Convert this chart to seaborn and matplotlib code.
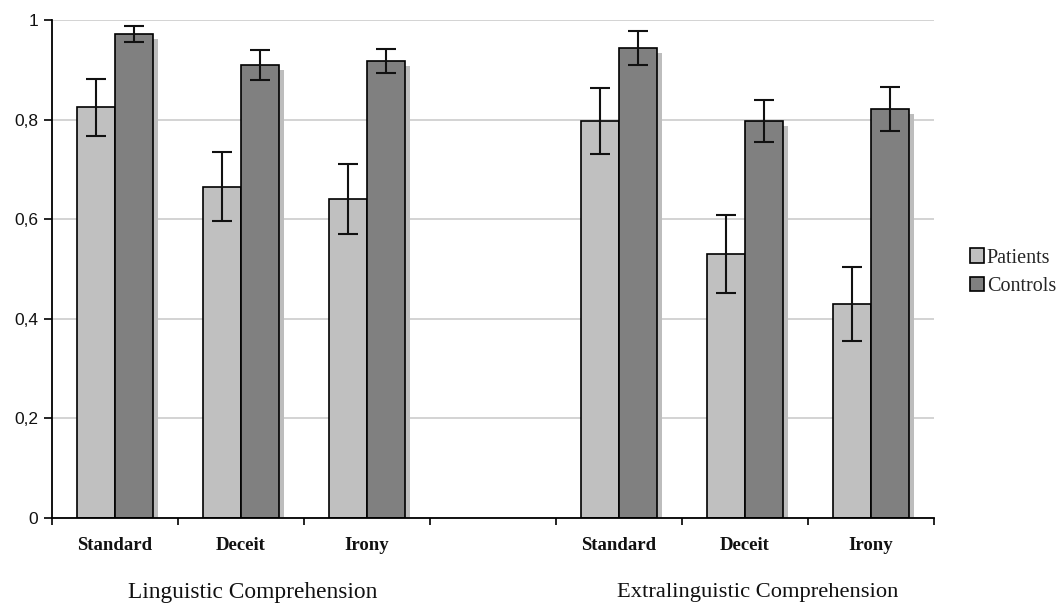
import numpy as np
import pandas as pd
import matplotlib
matplotlib.use("Agg")
import matplotlib.pyplot as plt
import matplotlib.patheffects as pe
import matplotlib.transforms as mtransforms
from matplotlib.container import BarContainer
import seaborn as sns

# ---- data ----
conditions = ["Standard", "Deceit", "Irony"]
domains = ["Linguistic Comprehension", "Extralinguistic Comprehension"]
groups = ["Patients", "Controls"]
patients_mean = [0.825, 0.665, 0.640, 0.797, 0.530, 0.430]
patients_err = [0.057, 0.069, 0.070, 0.067, 0.079, 0.075]
controls_mean = [0.971, 0.909, 0.918, 0.944, 0.797, 0.821]
controls_err = [0.016, 0.030, 0.024, 0.034, 0.042, 0.044]
yticks = [0, 0.2, 0.4, 0.6, 0.8, 1.0]
ytick_labels = ["0", "0,2", "0,4", "0,6", "0,8", "1"]

# ---- table ----
slots = [f"{d}|{c}" for d in domains for c in conditions]
order = slots[:3] + ["gap"] + slots[3:]
rows = []
errs = {}
for g, means, es in [("Patients", patients_mean, patients_err),
                     ("Controls", controls_mean, controls_err)]:
    for s, m, e in zip(slots, means, es):
        rows.append({"slot": s, "group": g, "value": m})
        errs[(g, s)] = e
df = pd.DataFrame(rows)

sns.set_style("white")
fig = plt.figure(figsize=(10.62, 6.06), dpi=100)
ax = fig.add_axes([52 / 1062, 88 / 606, 882 / 1062, 498 / 606])

palette = {"Patients": "#c0c0c0", "Controls": "#808080"}
sns.barplot(data=df, x="slot", y="value", hue="group", order=order,
            hue_order=groups, palette=palette, width=0.6, saturation=1,
            edgecolor="black", linewidth=1.2, errorbar=None, ax=ax, zorder=3)

shadow = [pe.SimplePatchShadow(offset=(3.4, -3.4), shadow_rgbFace="#bdbdbd", alpha=1.0),
          pe.Normal()]
bar_conts = [c for c in list(ax.containers) if isinstance(c, BarContainer)]
for gi, cont in enumerate(bar_conts):
    g = groups[gi]
    for bar in cont:
        h = bar.get_height()
        if h is None or np.isnan(h):
            continue
        bar.set_path_effects(shadow)
        xc = bar.get_x() + bar.get_width() / 2
        idx = int(round(xc))
        s = order[idx]
        if (g, s) in errs:
            ax.errorbar(xc, h, yerr=errs[(g, s)], fmt="none", ecolor="#111111",
                        elinewidth=1.5, capsize=7.5, capthick=1.5, zorder=6)

# ---- axes styling ----
ax.set_ylim(0, 1)
ax.set_xlim(-0.5, len(order) - 0.5)
ax.set_yticks(yticks)
ax.set_yticklabels(ytick_labels, family="Liberation Sans", fontsize=12.5, color="#111111")
ax.yaxis.grid(True, color="#c8c8c8", linewidth=1.1, zorder=0)
ax.set_axisbelow(True)
ax.tick_params(axis="y", direction="out", length=6, width=1.2, color="black", pad=4, left=True)

xlabels = conditions + [""] + conditions
ax.set_xticks(range(len(order)))
ax.set_xticklabels(xlabels, family="Liberation Serif", fontweight="bold",
                   fontsize=13.5, color="#111111")
ax.tick_params(axis="x", which="major", length=0, pad=14)
ax.set_xticks(np.arange(-0.5, len(order), 1.0), minor=True)
ax.tick_params(axis="x", which="minor", direction="out", length=5, width=1.2,
               color="black", bottom=True)
ax.set_xlabel("")
ax.set_ylabel("")

for sp in ["top", "right"]:
    ax.spines[sp].set_visible(False)
for sp in ["left", "bottom"]:
    ax.spines[sp].set_color("black")
    ax.spines[sp].set_linewidth(1.3)
    ax.spines[sp].set_zorder(7)

# group labels
trans = mtransforms.blended_transform_factory(ax.transData, ax.transAxes)
ax.text(order.index(slots[1]) + 0.09, -0.149, domains[0], transform=trans,
        ha="center", va="center", family="Liberation Serif", fontsize=16.8, color="#111111")
ax.text(order.index(slots[4]) + 0.1, -0.149, domains[1], transform=trans,
        ha="center", va="center", family="Liberation Serif", fontsize=16.2, color="#111111")

# legend
handles, labels = ax.get_legend_handles_labels()
ax.legend(handles, labels, loc="center left", bbox_to_anchor=(0.913, 0.551),
          bbox_transform=fig.transFigure, frameon=False,
          prop={"family": "Liberation Serif", "size": 14.5},
          handlelength=0.7, handleheight=0.7, handletextpad=0.15,
          labelspacing=0.45, borderpad=0, borderaxespad=0)

fig.savefig("out.png", dpi=100)
